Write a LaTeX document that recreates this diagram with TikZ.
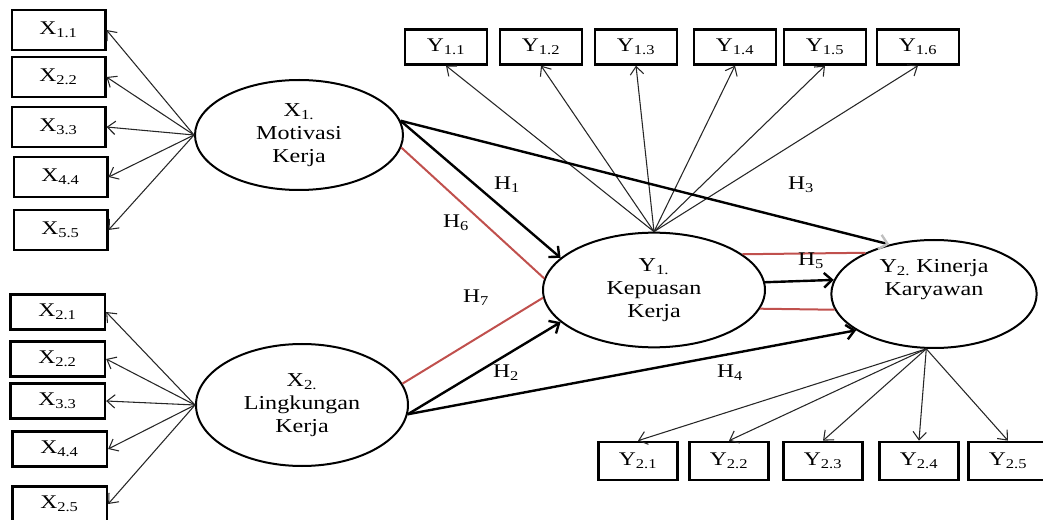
\documentclass[tikz,border=0pt]{standalone}
\usepackage{fontspec}
\setmainfont[FakeStretch=1.22]{Liberation Serif}
\usetikzlibrary{arrows.meta, shapes.geometric}

\begin{document}
\begin{tikzpicture}[x=0.75pt, y=-0.75pt,
    ind/.style={rectangle, draw=black, line width=2pt, minimum width=70pt, minimum height=30pt, inner sep=0pt, font=\fontsize{14.5}{16}\selectfont},
    indx/.style={ind, minimum width=71pt, minimum height=26pt},
    indy/.style={ind, minimum width=61.5pt, minimum height=26pt},
    indz/.style={ind, minimum width=59pt, minimum height=28.5pt},
    lat/.style={ellipse, draw=black, line width=1.5pt, inner sep=0pt, align=center, font=\fontsize{14.8}{17}\selectfont},
    load/.style={-{Straight Barb[length=6pt, width=10pt]}, line width=0.8pt, black!85},
    hyp/.style={-{Straight Barb[length=6pt, width=11pt]}, line width=1.8pt, black},
    moder/.style={line width=1.5pt, redline},
    hlab/.style={font=\fontsize{14.5}{16}\selectfont, black}
]

% colours
\definecolor{redline}{RGB}{192, 80, 77}

\useasboundingbox (0,0) rectangle (1043,520);

% X1 indicators
\node[ind] (x11) at (58.5,30) {X\textsubscript{1.1}};
\node[ind] (x12) at (58.5,77) {X\textsubscript{2.2}};
\node[ind] (x13) at (58.5,127) {X\textsubscript{3.3}};
\node[ind] (x14) at (60.5,177) {X\textsubscript{4.4}};
\node[ind] (x15) at (60.5,230) {X\textsubscript{5.5}};

% X2 indicators
\node[indx] (x21) at (57.5,312) {X\textsubscript{2.1}};
\node[indx] (x22) at (57.5,359) {X\textsubscript{2.2}};
\node[indx] (x23) at (57.5,401) {X\textsubscript{3.3}};
\node[indx] (x24) at (59.5,449) {X\textsubscript{4.4}};
\node[indx] (x25) at (59.5,504) {X\textsubscript{2.5}};

% Y1 indicators
\node[indy] (y11) at (446,47) {Y\textsubscript{1.1}};
\node[indy] (y12) at (541,47) {Y\textsubscript{1.2}};
\node[indy] (y13) at (636,47) {Y\textsubscript{1.3}};
\node[indy] (y14) at (735,47) {Y\textsubscript{1.4}};
\node[indy] (y15) at (825,47) {Y\textsubscript{1.5}};
\node[indy] (y16) at (918,47) {Y\textsubscript{1.6}};

% Y2 indicators
\node[indz] (y21) at (638,461) {Y\textsubscript{2.1}};
\node[indz] (y22) at (729,461) {Y\textsubscript{2.2}};
\node[indz] (y23) at (823,461) {Y\textsubscript{2.3}};
\node[indz] (y24) at (919,461) {Y\textsubscript{2.4}};
\node[indz] (y25) at (1008,461) {Y\textsubscript{2.5}};

% latent variables
\node[lat, minimum width=156pt, minimum height=82.5pt] (mot) at (299,135) {X\textsubscript{1.}\\Motivasi\\Kerja};
\node[lat, minimum width=159pt, minimum height=91.5pt] (ling) at (302,405) {X\textsubscript{2.}\\Lingkungan\\Kerja};
\node[lat, minimum width=166.5pt, minimum height=86pt] (kep) at (654,290) {Y\textsubscript{1.}\\Kepuasan\\Kerja};
\node[lat, minimum width=154pt, minimum height=81pt] (kin) at (934,294) {Y\textsubscript{2.} Kinerja\\Karyawan\\[8pt]};

% loadings
\draw[load] (mot.west) -- (x11.east);
\draw[load] (mot.west) -- (x12.east);
\draw[load] (mot.west) -- (x13.east);
\draw[load] (mot.west) -- (x14.east);
\draw[load] (mot.west) -- (x15.east);

\draw[load] (ling.west) -- (x21.east);
\draw[load] (ling.west) -- (x22.east);
\draw[load] (ling.west) -- (x23.east);
\draw[load] (ling.west) -- (x24.east);
\draw[load] (ling.west) -- (x25.east);

\draw[load] (kep.north) -- (y11.south);
\draw[load] (kep.north) -- (y12.south);
\draw[load] (kep.north) -- (y13.south);
\draw[load] (kep.north) -- (y14.south);
\draw[load] (kep.north) -- (y15.south);
\draw[load] (kep.north) -- (y16.south);

\draw[load] (kin.262) -- (y21.north);
\draw[load] (kin.262) -- (y22.north);
\draw[load] (kin.262) -- (y23.north);
\draw[load] (kin.262) -- (y24.north);
\draw[load] (kin.262) -- (y25.north);

% moderating lines
\draw[moder] (mot.-7) -- (kep.174);
\draw[moder] (ling.12) -- (kep.184);
\draw[moder] (kep.22) -- (kin.149);
\draw[moder] (kep.-10) -- (kin.189);

% hypotheses
\draw[hyp] (mot.8) -- (kep.161);
\draw[line width=1.8pt, -{Straight Barb[length=6pt, width=11pt, color=black!25]}] (mot.8) -- (kin.132);
\draw[hyp] (ling.-5) -- (kep.199);
\draw[hyp] (ling.-5) -- (kin.205);
\draw[hyp] (kep.4) -- (kin.172);

% hypothesis labels
\node[hlab] (h1) at (507,185) {H\textsubscript{1}};
\node[hlab] (h2) at (506,373) {H\textsubscript{2}};
\node[hlab] (h3) at (801,185) {H\textsubscript{3}};
\node[hlab] (h4) at (730,373) {H\textsubscript{4}};
\node[hlab] (h5) at (811,261) {H\textsubscript{5}};
\node[hlab] (h6) at (456,223) {H\textsubscript{6}};
\node[hlab] (h7) at (476,298) {H\textsubscript{7}};

\end{tikzpicture}
\end{document}
